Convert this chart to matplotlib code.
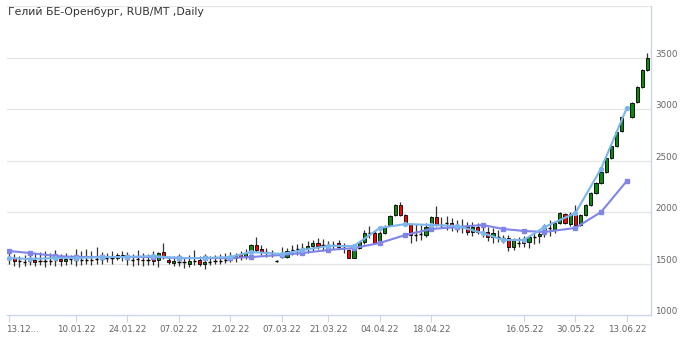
import matplotlib
matplotlib.use("Agg")
import matplotlib.pyplot as plt
import numpy as np
from matplotlib.patches import Rectangle
from matplotlib.transforms import ScaledTranslation

plt.rcParams['font.family'] = ['DejaVu Sans']

title = "Гелий БЕ-Оренбург, RUB/MT ,Daily"

opens = [
1545,1550,1525,1520,1525,1530,1520,1525,1530,1540,
1545,1520,1540,1535,1540,1530,1535,1540,1545,1550,
1550,1555,1585,1545,1540,1540,1535,1540,1555,1530,
1610,1535,1505,1520,1510,1500,1520,1530,1495,1520,
1525,1530,1535,1545,1553,1590,1575,1630,1680,1640,
1610,1600,1525,1585,1565,1630,1635,1650,1650,1670,
1700,1680,1675,1680,1700,1650,1630,1553,1650,1710,
1795,1795,1710,1800,1875,1970,2070,1970,1880,1780,
1790,1780,1875,1950,1875,1890,1890,1860,1850,1855,
1805,1855,1800,1805,1757,1760,1750,1745,1660,1700,
1720,1710,1760,1770,1790,1840,1830,1890,1980,1880,
1970,1875,1975,2068,2185,2282,2388,2524,2641,2786,
None,2922,3068,3214,3379]

closes = [
1540,1520,1522,1518,1525,1515,1522,1520,1528,1535,
1520,1540,1542,1535,1535,1532,1530,1540,1543,1548,
1550,1580,1560,1540,1535,1538,1535,1537,1520,1600,
1560,1510,1520,1518,1512,1520,1520,1500,1515,1518,
1525,1528,1535,1542,1573,1565,1600,1680,1630,1610,
1605,1598,1522,1565,1620,1632,1637,1652,1670,1700,
1670,1682,1677,1682,1660,1652,1553,1640,1710,1795,
1797,1700,1800,1850,1960,2070,1970,1875,1780,1782,
1792,1855,1950,1875,1877,1892,1870,1862,1852,1805,
1855,1805,1802,1757,1800,1762,1752,1660,1730,1702,
1700,1760,1762,1790,1850,1845,1890,1990,1890,1980,
1875,1970,2070,2185,2282,2388,2524,2641,2777,2922,
None,3058,3214,3379,3495]

highs = [
1600,1590,1570,1580,1585,1600,1610,1620,1600,1630,
1590,1600,1580,1640,1620,1640,1620,1660,1610,1600,
1620,1600,1620,1610,1590,1630,1600,1590,1620,1610,
1700,1560,1570,1590,1560,1580,1630,1570,1590,1570,
1580,1590,1600,1610,1600,1620,1640,1690,1760,1680,
1650,1630,1530,1660,1650,1680,1690,1700,1720,1730,
1750,1740,1720,1720,1730,1700,1640,1650,1720,1830,
1860,1830,1820,1870,1970,2080,2100,1980,1890,1880,
1870,1890,1960,2060,1950,1960,1940,1920,1930,1900,
1900,1890,1850,1850,1840,1830,1780,1780,1750,1760,
1770,1770,1800,1820,1880,1920,1900,2000,1990,2000,
2070,1980,2080,2195,2292,2398,2534,2651,2787,2932,
None,3068,3224,3389,3544]

lows = [
1500,1480,1470,1475,1490,1480,1485,1470,1490,1480,
1480,1490,1500,1480,1490,1500,1490,1500,1500,1510,
1500,1530,1520,1490,1480,1485,1480,1490,1490,1470,
1540,1495,1480,1475,1460,1470,1490,1480,1450,1490,
1500,1500,1505,1510,1510,1530,1540,1600,1610,1580,
1560,1560,1518,1550,1550,1580,1580,1590,1600,1620,
1640,1620,1630,1640,1640,1600,1550,1550,1640,1690,
1750,1690,1700,1790,1860,1960,1960,1860,1700,1720,
1730,1760,1860,1860,1840,1830,1820,1810,1800,1780,
1770,1790,1760,1720,1700,1710,1700,1620,1630,1660,
1660,1650,1690,1700,1760,1770,1800,1880,1880,1860,
1850,1860,1965,2058,2175,2272,2378,2514,2631,2776,
None,2912,3058,3204,3369]

ma_idx = [0, 4, 9, 13, 18, 23, 28, 33, 38, 43, 47, 53, 57, 62, 67, 72, 77, 82,
          87, 92, 96, 100, 104, 110, 115, 120]
ma_fast = [1553, 1544, 1553, 1553, 1563, 1563, 1573, 1553, 1553, 1563, 1612, 1592,
           1631, 1670, 1670, 1845, 1883, 1874, 1864, 1796, 1728, 1728, 1854, 1990,
           2420, 3010]
ma_slow = [1621, 1602, 1573, 1563, 1563, 1563, 1563, 1553, 1553, 1553, 1563, 1583,
           1602, 1631, 1650, 1699, 1777, 1835, 1854, 1874, 1835, 1816, 1806, 1845,
           2000, 2301]

tick_idx = [0, 13, 23, 33, 43, 53, 62, 72, 82, 100, 110, 120]
tick_labels = ['13.12...', '10.01.22', '24.01.22', '07.02.22', '21.02.22', '07.03.22',
               '21.03.22', '04.04.22', '18.04.22', '16.05.22', '30.05.22', '13.06.22']
y_ticks = [1000, 1500, 2000, 2500, 3000, 3500]

fig = plt.figure(figsize=(6.8, 3.38), dpi=100)
ax = fig.add_axes([7/680, 23/338, (651-7)/680, (315-6)/338])
ax.set_xlim(-0.4, 124.7)
ax.set_ylim(1000, 4000)

for v in [1500, 2000, 2500, 3000, 3500, 4000]:
    ax.axhline(v, color='#e6e6e6', lw=0.9, zorder=0)

w = 0.62
for i in range(len(opens)):
    o, h, l, c = opens[i], highs[i], lows[i], closes[i]
    if o is None:
        continue
    ax.vlines(i, l, h, color='#333333', lw=0.9, zorder=2)
    lo, hi = min(o, c), max(o, c)
    if hi - lo < 6:
        ax.hlines((o + c) / 2, i - w/2, i + w/2, color='black', lw=1.0, zorder=3)
    else:
        col = '#0a8a0a' if c > o else '#ff0000'
        ax.add_patch(Rectangle((i - w/2, lo), w, hi - lo, facecolor=col,
                               edgecolor='black', lw=0.6, zorder=3))

ax.plot(ma_idx, ma_slow, color='#8085e9', lw=1.5, marker='s', ms=2.2, zorder=4)
ax.plot(ma_idx, ma_fast, color='#7cb5ec', lw=1.5, marker='o', ms=2.8, zorder=5)

for s in ['top', 'left']:
    ax.spines[s].set_visible(False)
for s in ['bottom', 'right']:
    ax.spines[s].set_color('#ccd6eb')
    ax.spines[s].set_linewidth(1.0)

ax.set_xticks(tick_idx)
ax.set_xticklabels(tick_labels)
ax.tick_params(axis='x', length=5, color='#ccd6eb', labelsize=6.3, labelcolor='#666666', pad=2)
lbls = ax.get_xticklabels()
lbls[0].set_ha('left')
lbls[0].set_transform(lbls[0].get_transform() + ScaledTranslation(-2/72, 0, fig.dpi_scale_trans))

ax.yaxis.tick_right()
ax.set_yticks(y_ticks)
ax.set_yticklabels([str(v) for v in y_ticks])
ax.tick_params(axis='y', length=0, labelsize=6.3, labelcolor='#666666', pad=3)
for lab in ax.get_yticklabels():
    lab.set_transform(lab.get_transform() + ScaledTranslation(0, 3/72, fig.dpi_scale_trans))

fig.text(8/680, 1 - 12/338, title, fontsize=7.8, color='#333333', ha='left', va='center')

fig.savefig('out.png', dpi=100)
